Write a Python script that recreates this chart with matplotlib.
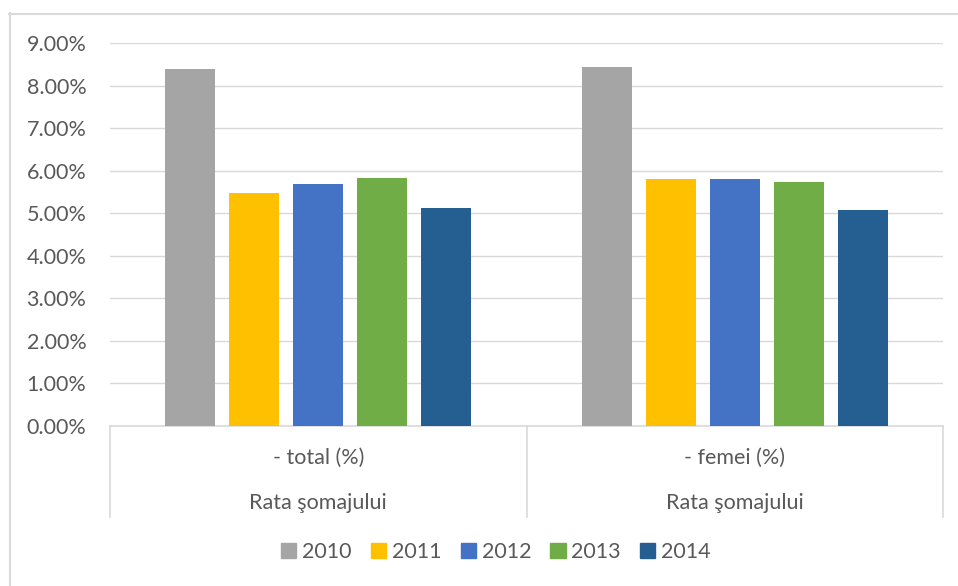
import matplotlib
matplotlib.use("Agg")
import matplotlib.pyplot as plt
from matplotlib.patches import Rectangle
from matplotlib.lines import Line2D
import numpy as np

categories = ["- total (%)", "- femei (%)"]
group_label = "Rata şomajului"
years = ["2010", "2011", "2012", "2013", "2014"]
values = {
    "2010": [8.39, 8.43],
    "2011": [5.47, 5.80],
    "2012": [5.69, 5.80],
    "2013": [5.83, 5.73],
    "2014": [5.12, 5.07],
}
colors = ["#A5A5A5", "#FFC000", "#4472C4", "#70AD47", "#255E91"]
yticks = [0, 1, 2, 3, 4, 5, 6, 7, 8, 9]

plt.rcParams['font.family'] = ['Lato', 'DejaVu Sans']
txt = "#595959"
FS = 15.5
W, H = 958, 586
fig = plt.figure(figsize=(W/100, H/100), dpi=100)
ax = fig.add_axes([110/W, (H-426)/H, 833/W, 383/H])

x = np.arange(len(categories))
bw = 0.12
step = 0.1537
for i, y in enumerate(years):
    off = (i - 2) * step
    ax.bar(x + off, values[y], width=bw, color=colors[i], label=y, zorder=3)

ax.set_xlim(-0.5, 1.5)
ax.set_ylim(0, 9)
ax.set_yticks(yticks)
ax.set_yticklabels([f"{v:.2f}%" for v in yticks], color=txt, fontsize=FS)
ax.tick_params(axis='y', length=0, pad=17)
ax.set_xticks([])
ax.grid(axis='y', color='#D9D9D9', linewidth=1, zorder=0)
for s in ["top", "right", "left"]:
    ax.spines[s].set_visible(False)
ax.spines["bottom"].set_color("#D9D9D9")
ax.spines["bottom"].set_linewidth(1.2)

def fx(px):
    return px / W
def fy(py):
    return 1 - py / H
for px in [110, 527, 943]:
    fig.add_artist(Line2D([fx(px), fx(px)], [fy(426), fy(517)], color="#D9D9D9", linewidth=1.2))
for i, c in enumerate(categories):
    cx = ax.transData.transform((i, 0))[0] / W
    fig.text(cx, fy(458), c, ha='center', va='center', color=txt, fontsize=FS)
    fig.text(cx, fy(503), group_label, ha='center', va='center', color=txt, fontsize=FS)

# outer border (top and left visible)
fig.add_artist(Line2D([fx(9), 1], [fy(13.5), fy(13.5)], color="#D9D9D9", linewidth=1.5))
fig.add_artist(Line2D([fx(9.5), fx(9.5)], [fy(13), 0], color="#D9D9D9", linewidth=1.5))

handles = [Rectangle((0, 0), 1, 1, color=c) for c in colors]
fig.legend(handles, years, loc='center', bbox_to_anchor=(fx(496), fy(552)), ncol=5, frameon=False,
           fontsize=FS, labelcolor=txt, handlelength=0.7, handleheight=0.7, handletextpad=0.27, columnspacing=0.9)

fig.savefig("out.png", dpi=100)
